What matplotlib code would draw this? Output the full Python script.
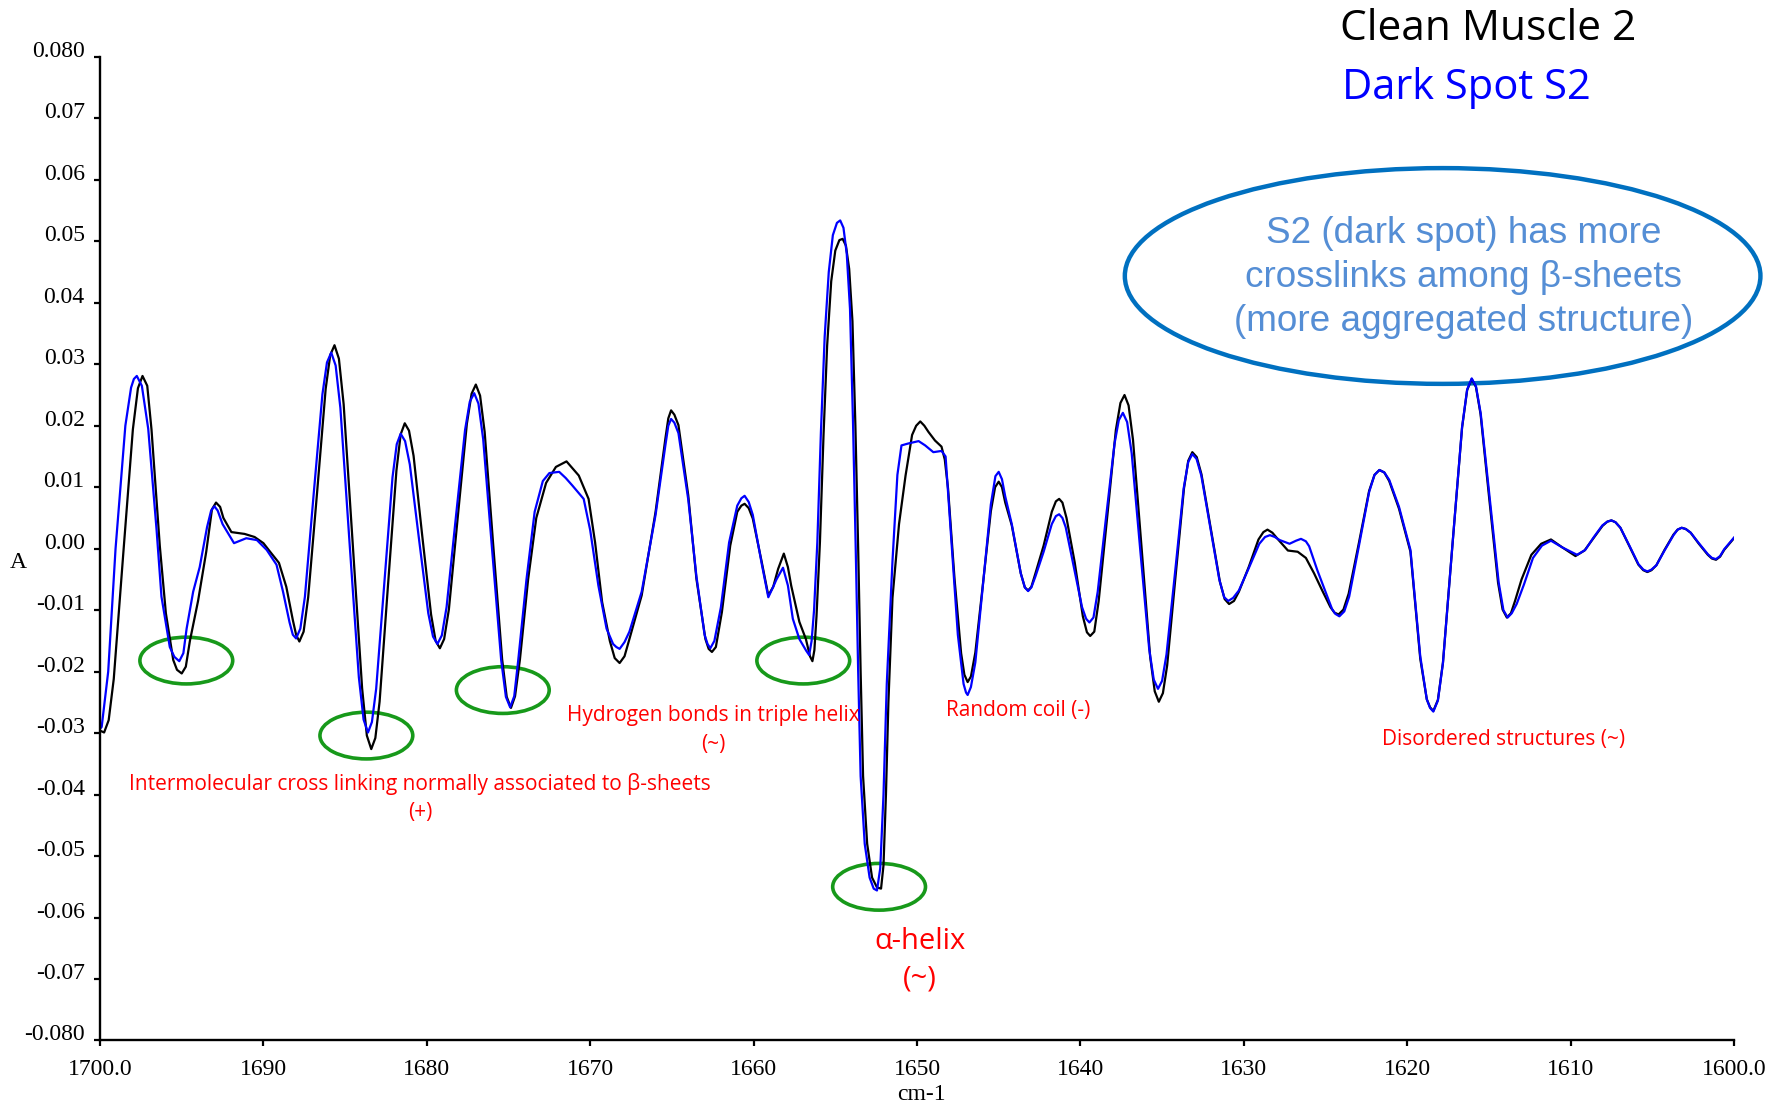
import matplotlib
matplotlib.use('Agg')
import matplotlib.pyplot as plt
from matplotlib.patches import Ellipse
from matplotlib.ticker import FixedLocator, FixedFormatter

# ---- data: (wavenumber cm-1, second-derivative absorbance A) ----
clean_muscle_points = [
    (1700.0, -0.0296), (1699.75, -0.0299), (1699.47, -0.0279), (1699.16, -0.0212), (1698.58, -0.0009),
    (1697.99, 0.0194), (1697.68, 0.0261), (1697.4, 0.0281), (1697.11, 0.0265), (1696.85, 0.0194),
    (1696.34, 0.0004), (1695.97, -0.0105), (1695.52, -0.0181), (1695.29, -0.0197), (1695.0, -0.0203),
    (1694.75, -0.0192), (1694.5, -0.0150), (1694.0, -0.0085), (1693.5, -0.0005), (1693.15, 0.0064),
    (1692.9, 0.0075), (1692.65, 0.0068), (1692.45, 0.0050), (1691.96, 0.0027), (1691.15, 0.0024),
    (1690.54, 0.0019), (1690.0, 0.0009), (1689.62, -0.0004), (1689.05, -0.0023), (1688.6, -0.0062),
    (1688.2, -0.0116), (1688.0, -0.0140), (1687.8, -0.0151), (1687.54, -0.0135), (1687.26, -0.0079),
    (1686.72, 0.0090), (1686.19, 0.0260), (1685.91, 0.0315), (1685.65, 0.0331), (1685.38, 0.0309),
    (1685.09, 0.0235), (1684.52, 0.0002), (1683.96, -0.0227), (1683.67, -0.0304), (1683.4, -0.0326),
    (1683.15, -0.0308), (1682.89, -0.0249), (1682.38, -0.0061), (1681.86, 0.0127), (1681.6, 0.0186),
    (1681.35, 0.0204), (1681.09, 0.0192), (1680.81, 0.0151), (1680.28, 0.0021), (1679.74, -0.0107),
    (1679.46, -0.0150), (1679.2, -0.0162), (1678.94, -0.0147), (1678.65, -0.0099), (1678.1, 0.0053),
    (1677.55, 0.0203), (1677.26, 0.0252), (1677.0, 0.0267), (1676.74, 0.0249), (1676.46, 0.0190),
    (1675.93, 0.0004), (1675.39, -0.0180), (1675.11, -0.0241), (1674.85, -0.0259), (1674.6, -0.0240),
    (1674.3, -0.0180), (1673.8, -0.0050), (1673.3, 0.0050), (1672.7, 0.0107), (1672.1, 0.0133),
    (1671.45, 0.0142), (1670.7, 0.0119), (1670.1, 0.0081), (1669.7, 0.0010), (1669.27, -0.0087),
    (1668.8, -0.0150), (1668.5, -0.0178), (1668.2, -0.0186), (1667.9, -0.0175), (1667.6, -0.0147),
    (1666.85, -0.0076), (1666.0, 0.0060), (1665.4, 0.0179), (1665.22, 0.0212), (1665.05, 0.0225),
    (1664.85, 0.0218), (1664.6, 0.0201), (1664.0, 0.0087), (1663.5, -0.0049), (1662.95, -0.0147),
    (1662.75, -0.0163), (1662.55, -0.0168), (1662.31, -0.0160), (1661.94, -0.0103), (1661.43, 0.0005),
    (1661.0, 0.0060), (1660.75, 0.0070), (1660.55, 0.0073), (1660.3, 0.0066), (1660.05, 0.0049),
    (1659.5, -0.0022), (1659.1, -0.0076), (1658.8, -0.0062), (1658.5, -0.0033), (1658.15, -0.0008),
    (1657.9, -0.0030), (1657.7, -0.0060), (1657.2, -0.0119), (1656.8, -0.0147), (1656.55, -0.0175),
    (1656.4, -0.0183), (1656.28, -0.0165), (1656.15, -0.0110), (1655.94, 0.0011), (1655.72, 0.0185),
    (1655.5, 0.0330), (1655.25, 0.0435), (1655.0, 0.0485), (1654.75, 0.0502), (1654.55, 0.0504),
    (1654.35, 0.0493), (1654.15, 0.0455), (1653.95, 0.0370), (1653.77, 0.0200), (1653.6, 0.0000),
    (1653.45, -0.0200), (1653.3, -0.0370), (1653.05, -0.0480), (1652.75, -0.0535), (1652.45, -0.0551),
    (1652.2, -0.0553), (1652.05, -0.0515), (1651.9, -0.0400), (1651.75, -0.0250), (1651.5, -0.0080),
    (1651.1, 0.0040), (1650.7, 0.0119), (1650.3, 0.0185), (1650.05, 0.0200),
    (1649.8, 0.0207), (1649.55, 0.0200), (1649.3, 0.0190), (1648.9, 0.0176), (1648.5, 0.0166),
    (1648.3, 0.0145), (1648.1, 0.0098), (1647.7, -0.0050), (1647.3, -0.0170), (1647.1, -0.0205),
    (1646.9, -0.0217), (1646.7, -0.0208), (1646.43, -0.0169), (1645.95, -0.0054), (1645.48, 0.0061),
    (1645.22, 0.0100), (1645.0, 0.0109), (1644.8, 0.0100), (1644.6, 0.0075), (1644.2, 0.0038),
    (1643.65, -0.0040), (1643.4, -0.0063), (1643.2, -0.0068), (1643.0, -0.0062), (1642.75, -0.0040),
    (1642.25, 0.0005), (1641.75, 0.0060), (1641.5, 0.0077), (1641.3, 0.0081), (1641.1, 0.0075),
    (1640.85, 0.0050), (1640.35, -0.0022), (1639.85, -0.0110), (1639.6, -0.0136), (1639.4, -0.0142),
    (1639.15, -0.0135), (1638.88, -0.0085), (1638.35, 0.0054), (1637.83, 0.0193), (1637.55, 0.0237),
    (1637.3, 0.0250), (1637.05, 0.0233), (1636.78, 0.0177), (1636.25, 0.0000), (1635.73, -0.0176),
    (1635.45, -0.0232), (1635.2, -0.0249), (1634.95, -0.0235), (1634.69, -0.0190), (1634.18, -0.0046),
    (1633.66, 0.0098), (1633.4, 0.0143), (1633.15, 0.0157), (1632.88, 0.0149), (1632.59, 0.0121),
    (1632.03, 0.0034), (1631.46, -0.0054), (1631.17, -0.0082), (1630.9, -0.0090), (1630.6, -0.0085),
    (1630.3, -0.0070), (1629.7, -0.0030), (1629.1, 0.0015), (1628.8, 0.0027), (1628.55, 0.0031),
    (1628.25, 0.0026), (1627.9, 0.0015), (1627.3, -0.0003), (1626.7, -0.0005), (1626.2, -0.0015),
    (1625.7, -0.0040), (1625.2, -0.0068), (1624.7, -0.0095), (1624.45, -0.0104), (1624.2, -0.0107),
    (1623.9, -0.0099), (1623.58, -0.0073), (1622.95, 0.0010), (1622.33, 0.0094), (1622.0, 0.0120),
    (1621.7, 0.0128), (1621.4, 0.0124), (1621.1, 0.0110), (1620.5, 0.0065), (1619.8, -0.0005),
    (1619.2, -0.0179), (1618.8, -0.0245), (1618.6, -0.0258), (1618.4, -0.0264), (1618.12, -0.0246),
    (1617.81, -0.0185), (1617.23, 0.0006), (1616.64, 0.0197), (1616.33, 0.0258), (1616.05, 0.0276),
    (1615.79, 0.0263), (1615.51, 0.0219), (1614.98, 0.0082), (1614.44, -0.0055), (1614.16, -0.0099),
    (1613.9, -0.0112), (1613.65, -0.0105), (1613.4, -0.0085), (1613.0, -0.0050), (1612.4, -0.0010),
    (1611.8, 0.0008), (1611.2, 0.0015), (1610.5, 0.0002), (1609.7, -0.0012), (1609.15, -0.0003),
    (1608.6, 0.0017), (1608.05, 0.0037), (1607.75, 0.0044), (1607.5, 0.0046), (1607.25, 0.0043),
    (1606.95, 0.0034), (1606.4, 0.0004), (1605.85, -0.0026), (1605.55, -0.0035), (1605.3, -0.0038),
    (1605.05, -0.0035), (1604.75, -0.0027), (1604.25, -0.0002), (1603.7, 0.0023), (1603.45, 0.0031),
    (1603.2, 0.0034), (1602.95, 0.0032), (1602.65, 0.0026), (1602.15, 0.0008), (1601.6, -0.0010),
    (1601.35, -0.0016), (1601.1, -0.0018), (1600.85, -0.0013), (1600.6, -0.0002), (1600.0, 0.0017),
]

dark_spot_points = [
    (1700.0, -0.0293), (1699.9, -0.0290), (1699.5, -0.0200), (1699.05, 0.0000), (1698.45, 0.0200),
    (1698.1, 0.0262), (1697.93, 0.0276), (1697.75, 0.0281), (1697.44, 0.0265), (1697.05, 0.0195),
    (1696.54, 0.0031), (1696.24, -0.0078), (1695.73, -0.0160), (1695.45, -0.0176), (1695.15, -0.0183),
    (1694.9, -0.0170), (1694.7, -0.0130), (1694.3, -0.0070), (1693.9, -0.0030), (1693.45, 0.0035),
    (1693.2, 0.0062), (1693.0, 0.0069), (1692.8, 0.0062), (1692.5, 0.0040), (1691.8, 0.0009),
    (1691.05, 0.0017), (1690.4, 0.0014), (1689.8, -0.0002), (1689.2, -0.0026), (1688.8, -0.0070),
    (1688.4, -0.0120), (1688.2, -0.0140), (1688.0, -0.0146), (1687.74, -0.0130), (1687.46, -0.0078),
    (1686.93, 0.0087), (1686.39, 0.0251), (1686.11, 0.0303), (1685.85, 0.0319), (1685.58, 0.0298),
    (1685.29, 0.0229), (1684.73, 0.0010), (1684.16, -0.0209), (1683.87, -0.0278), (1683.6, -0.0299),
    (1683.36, -0.0282), (1683.1, -0.0228), (1682.6, -0.0056), (1682.1, 0.0116), (1681.84, 0.0170),
    (1681.6, 0.0187), (1681.33, 0.0175), (1681.04, 0.0137), (1680.48, 0.0016), (1679.91, -0.0105),
    (1679.62, -0.0143), (1679.35, -0.0155), (1679.08, -0.0141), (1678.79, -0.0095), (1678.23, 0.0049),
    (1677.66, 0.0193), (1677.37, 0.0239), (1677.1, 0.0253), (1676.84, 0.0236), (1676.55, 0.0178),
    (1676.0, -0.0003), (1675.45, -0.0181), (1675.16, -0.0241), (1674.9, -0.0258), (1674.65, -0.0240),
    (1674.4, -0.0180), (1673.9, -0.0050), (1673.4, 0.0060), (1672.9, 0.0110), (1672.5, 0.0123),
    (1671.9, 0.0125), (1671.5, 0.0115), (1671.1, 0.0103), (1670.4, 0.0081), (1670.0, 0.0030),
    (1669.5, -0.0060), (1669.0, -0.0130), (1668.6, -0.0155), (1668.4, -0.0160), (1668.2, -0.0163),
    (1667.9, -0.0152), (1667.6, -0.0135), (1666.85, -0.0070), (1666.0, 0.0055), (1665.4, 0.0168),
    (1665.22, 0.0200), (1665.05, 0.0211), (1664.85, 0.0205), (1664.6, 0.0188), (1664.0, 0.0080),
    (1663.5, -0.0045), (1663.0, -0.0140), (1662.82, -0.0155), (1662.65, -0.0162), (1662.4, -0.0150),
    (1662.0, -0.0095), (1661.5, 0.0010), (1661.0, 0.0070), (1660.75, 0.0082), (1660.55, 0.0086),
    (1660.3, 0.0076), (1660.05, 0.0055), (1659.5, -0.0025), (1659.1, -0.0079), (1658.8, -0.0062),
    (1658.6, -0.0050), (1658.2, -0.0031), (1657.9, -0.0060), (1657.6, -0.0114), (1657.2, -0.0147),
    (1656.78, -0.0166), (1656.6, -0.0173), (1656.45, -0.0150), (1656.3, -0.0100), (1656.1, 0.0010),
    (1655.88, 0.0190), (1655.65, 0.0345), (1655.4, 0.0450), (1655.15, 0.0510), (1654.9, 0.0530),
    (1654.7, 0.0534), (1654.5, 0.0522), (1654.3, 0.0480), (1654.1, 0.0390), (1653.92, 0.0210),
    (1653.75, 0.0000), (1653.6, -0.0200), (1653.45, -0.0370), (1653.2, -0.0480), (1652.9, -0.0535),
    (1652.65, -0.0553), (1652.45, -0.0556), (1652.25, -0.0520), (1652.05, -0.0400), (1651.85, -0.0220),
    (1651.5, -0.0020), (1651.2, 0.0120), (1650.95, 0.0168), (1650.55, 0.0171),
    (1649.9, 0.0175), (1649.5, 0.0168), (1649.0, 0.0157), (1648.5, 0.0159), (1648.25, 0.0150),
    (1647.95, 0.0033), (1647.5, -0.0140), (1647.15, -0.0220), (1647.0, -0.0234), (1646.9, -0.0238),
    (1646.7, -0.0225), (1646.43, -0.0185), (1645.95, -0.0056), (1645.48, 0.0072), (1645.2, 0.0118),
    (1645.0, 0.0125), (1644.8, 0.0113), (1644.6, 0.0085), (1644.2, 0.0040), (1643.65, -0.0040),
    (1643.4, -0.0063), (1643.2, -0.0069), (1643.0, -0.0063), (1642.75, -0.0045), (1642.25, -0.0005),
    (1641.75, 0.0040), (1641.5, 0.0053), (1641.3, 0.0056), (1641.1, 0.0050), (1640.9, 0.0035),
    (1640.4, -0.0030), (1639.9, -0.0095), (1639.65, -0.0114), (1639.45, -0.0120), (1639.2, -0.0112),
    (1638.94, -0.0070), (1638.43, 0.0051), (1637.91, 0.0171), (1637.65, 0.0209), (1637.4, 0.0221),
    (1637.14, 0.0206), (1636.86, 0.0155), (1636.33, -0.0004), (1635.79, -0.0163), (1635.51, -0.0213),
    (1635.25, -0.0228), (1635.0, -0.0215), (1634.73, -0.0172), (1634.2, -0.0037), (1633.68, 0.0098),
    (1633.4, 0.0141), (1633.15, 0.0154), (1632.89, 0.0146), (1632.6, 0.0119), (1632.05, 0.0035),
    (1631.5, -0.0050), (1631.2, -0.0079), (1630.95, -0.0085), (1630.65, -0.0080), (1630.3, -0.0068),
    (1629.7, -0.0032), (1629.05, 0.0008), (1628.7, 0.0019), (1628.4, 0.0022), (1628.1, 0.0019),
    (1627.8, 0.0014), (1627.2, 0.0008), (1626.8, 0.0013), (1626.5, 0.0016), (1626.2, 0.0012),
    (1626.0, 0.0004), (1625.5, -0.0035), (1625.0, -0.0070), (1624.6, -0.0098), (1624.4, -0.0106),
    (1624.15, -0.0110), (1623.85, -0.0102), (1623.55, -0.0078), (1622.95, 0.0005), (1622.33, 0.0092),
    (1622.0, 0.0120), (1621.7, 0.0128), (1621.4, 0.0124), (1621.1, 0.0112), (1620.5, 0.0068),
    (1619.8, -0.0002), (1619.2, -0.0175), (1618.8, -0.0245), (1618.6, -0.0259), (1618.4, -0.0265),
    (1618.12, -0.0247), (1617.81, -0.0186), (1617.23, 0.0006), (1616.64, 0.0198), (1616.33, 0.0259),
    (1616.05, 0.0277), (1615.79, 0.0264), (1615.5, 0.0220), (1614.95, 0.0082), (1614.4, -0.0055),
    (1614.11, -0.0100), (1613.85, -0.0112), (1613.6, -0.0105), (1613.3, -0.0090), (1612.85, -0.0058),
    (1612.3, -0.0015), (1611.75, 0.0005), (1611.2, 0.0013), (1610.5, 0.0002), (1609.6, -0.0010),
    (1609.1, -0.0002), (1608.6, 0.0018), (1608.05, 0.0038), (1607.75, 0.0044), (1607.5, 0.0046),
    (1607.25, 0.0043), (1606.95, 0.0034), (1606.4, 0.0005), (1605.85, -0.0025), (1605.55, -0.0034),
    (1605.3, -0.0037), (1605.05, -0.0034), (1604.75, -0.0027), (1604.25, -0.0003), (1603.7, 0.0022),
    (1603.45, 0.0031), (1603.2, 0.0034), (1602.95, 0.0032), (1602.65, 0.0026), (1602.15, 0.0009),
    (1601.6, -0.0009), (1601.35, -0.0015), (1601.1, -0.0017), (1600.85, -0.0012), (1600.6, -0.0001),
    (1600.0, 0.0018),
]

x_ticks = [1700, 1690, 1680, 1670, 1660, 1650, 1640, 1630, 1620, 1610, 1600]
x_tick_labels = ['1700.0', '1690', '1680', '1670', '1660', '1650', '1640', '1630', '1620', '1610', '1600.0']
y_ticks = [0.08, 0.07, 0.06, 0.05, 0.04, 0.03, 0.02, 0.01, 0.0,
           -0.01, -0.02, -0.03, -0.04, -0.05, -0.06, -0.07, -0.08]
y_tick_labels = ['0.080', '0.07', '0.06', '0.05', '0.04', '0.03', '0.02', '0.01', '0.00',
                 '-0.01', '-0.02', '-0.03', '-0.04', '-0.05', '-0.06', '-0.07', '-0.080']

series_names = ['Clean Muscle 2', 'Dark Spot S2']

# green-marked minima (wavenumber, value)
marked_wn = [1694.72, 1683.70, 1675.35, 1656.96, 1652.32]
marked_abs = [-0.0182, -0.0304, -0.0230, -0.0182, -0.0550]

black_wn, black_abs = zip(*clean_muscle_points)
blue_wn, blue_abs = zip(*dark_spot_points)

serif = ['Liberation Serif', 'DejaVu Serif']
sans = ['Open Sans', 'DejaVu Sans']

fig = plt.figure(figsize=(17.83, 11.07), dpi=100)
ax = fig.add_axes([0.0561, 0.0601, 0.9725 - 0.0561, 0.9486 - 0.0601])

ax.plot(black_wn, black_abs, color='black', lw=1.6, solid_joinstyle='round')
ax.plot(blue_wn, blue_abs, color='#0000FF', lw=1.6, solid_joinstyle='round')

ax.set_xlim(1700, 1600)
ax.set_ylim(-0.08, 0.08)
for s in ['top', 'right']:
    ax.spines[s].set_visible(False)
for s in ['left', 'bottom']:
    ax.spines[s].set_linewidth(1.7)

ax.xaxis.set_major_locator(FixedLocator(x_ticks))
ax.xaxis.set_major_formatter(FixedFormatter(x_tick_labels))
ax.yaxis.set_major_locator(FixedLocator(y_ticks))
ax.yaxis.set_major_formatter(FixedFormatter(y_tick_labels))
ax.tick_params(axis='both', direction='out', length=4, width=1.6, labelsize=17)
ax.tick_params(axis='y', pad=7)
ax.tick_params(axis='x', pad=9)
for lab in ax.get_xticklabels() + ax.get_yticklabels():
    lab.set_fontfamily(serif)
for lab in ax.get_yticklabels():
    lab.set_va('baseline')

fig.text(18 / 1783, 1 - 562 / 1107, 'A', fontfamily=serif, fontsize=17, ha='center', va='center')
fig.text(921 / 1783, 1 - 1095 / 1107, 'cm-1', fontfamily=serif, fontsize=17, ha='center', va='center')

# legend-like titles
fig.text(1340 / 1783, 1 - 29 / 1107, series_names[0], fontfamily=sans, fontsize=30.5,
         color='black', ha='left', va='center')
fig.text(1342 / 1783, 1 - 88 / 1107, series_names[1], fontfamily=sans, fontsize=30,
         color='#0000FF', ha='left', va='center')

# green ellipses around the minima
for w, v in zip(marked_wn, marked_abs):
    ax.add_patch(Ellipse((w, v), width=5.68, height=0.0076, fill=False,
                         edgecolor='#17991A', lw=2.6))

# big blue ellipse with comment
ax.add_patch(Ellipse((1617.83, 0.04436), width=38.9, height=0.0351, fill=False,
                     edgecolor='#0070C0', lw=3.2, clip_on=False))
ax.text(1616.54, 0.0441, 'S2 (dark spot) has more\ncrosslinks among β-sheets\n(more aggregated structure)',
        fontfamily=['Liberation Sans', 'DejaVu Sans'], fontsize=26.6, color='#558ED5',
        ha='center', va='center', multialignment='center', linespacing=1.33, clip_on=False)

red = '#FF0000'
ax.text(1680.42, -0.0406, 'Intermolecular cross linking normally associated to β-sheets\n(+)',
        fontfamily=sans, fontsize=15, color=red, ha='center', va='center',
        multialignment='center', linespacing=1.45)
ax.text(1662.45, -0.0295, 'Hydrogen bonds in triple helix\n(~)', fontfamily=sans, fontsize=15,
        color=red, ha='center', va='center', multialignment='center', linespacing=1.45)
ax.text(1643.83, -0.0264, 'Random coil (-)', fontfamily=sans, fontsize=15, color=red,
        ha='center', va='center')
ax.text(1614.13, -0.0311, 'Disordered structures (~)', fontfamily=sans, fontsize=15, color=red,
        ha='center', va='center')
ax.text(1649.82, -0.0669, 'α-helix\n(~)', fontfamily=sans, fontsize=21, color=red,
        ha='center', va='center', multialignment='center', linespacing=1.4)

fig.savefig('out.png', dpi=100)
